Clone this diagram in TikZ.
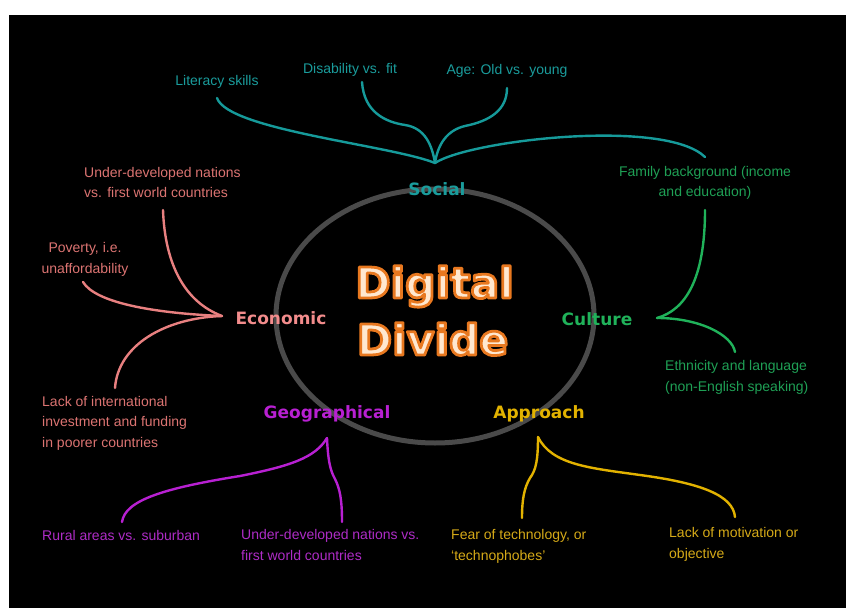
\documentclass[tikz,border=0pt]{standalone}
\usepackage{fontspec}
\setmainfont{Liberation Sans}
\newfontfamily\labelfont[BoldFont={DejaVu Sans Bold}]{DejaVu Sans}
\usetikzlibrary{calc}

\definecolor{ringgrey}{HTML}{4A4A4A}
\definecolor{titlefill}{HTML}{FFE8D0}
\definecolor{tealline}{HTML}{169A9A}
\definecolor{tealtext}{HTML}{1A9C9C}
\definecolor{salmonline}{HTML}{E88080}
\definecolor{salmonlabel}{HTML}{F28C8C}
\definecolor{salmontext}{HTML}{DC7472}
\definecolor{greenline}{HTML}{20B25A}
\definecolor{greentext}{HTML}{1FA055}
\definecolor{purpleline}{HTML}{B820D2}
\definecolor{purpletext}{HTML}{AE2CC6}
\definecolor{goldline}{HTML}{E2B200}
\definecolor{goldtext}{HTML}{D6AA18}

% outlined title text: fill with the text colour, stroke in orange
\newcommand{\glowword}[1]{%
  \special{pdf:literal direct 2 Tr 2.8 w 1 J 1 j 0.91 0.47 0.12 RG}#1%
  \special{pdf:literal direct 0 Tr}}

\tikzset{
  note/.style={inner sep=0pt, font=\fontsize{14bp}{20.5bp}\selectfont},
  cat/.style={inner sep=0pt, anchor=base, font=\labelfont\bfseries\fontsize{17bp}{20bp}\selectfont},
  branch/.style={line width=2.4bp, line cap=round},
  titletext/.style={inner sep=0pt, anchor=base, text=titlefill,
    font=\labelfont\bfseries\fontsize{42.5bp}{50bp}\selectfont},
}

\begin{document}
\begin{tikzpicture}[x=1bp,y=-1bp]
\useasboundingbox (0,0) rectangle (847,608);
\fill[white] (0,0) rectangle (847,608);
\fill[black] (9,15) rectangle (846,608);

% central ring
\draw[ringgrey, line width=5bp] (435,316) ellipse [x radius=159bp, y radius=127bp];

% title
\node[titletext] (digital) at (434.5,298) {\glowword{Digital}};
\node[titletext] (divide) at (432.5,355) {\glowword{Divide}};

% category labels
\node[cat, text=tealtext] (social) at (437,196) {Social};
\node[cat, text=salmonlabel] (economic) at (281,324) {Economic};
\node[cat, text=greenline] (culture) at (597,325) {Culture};
\node[cat, text=purpleline] (geo) at (327,418) {Geographical};
\node[cat, text=goldline] (approach) at (539,418) {Approach};

% social notes
\node[note, text=tealtext, anchor=base] (literacy) at (217,86) {Literacy skills};
\node[note, text=tealtext, anchor=base] (disability) at (350,74) {Disability vs. fit};
\node[note, text=tealtext, anchor=base] (age) at (507,75) {Age: Old vs. young};

% economic notes (base anchor = last line)
\node[note, text=salmontext, anchor=base west, align=left] (eundev) at (84,198)
  {Under-developed nations\\vs. first world countries};
\node[note, text=salmontext, anchor=base, align=center] (poverty) at (85,273)
  {Poverty, i.e.\\unaffordability};
\node[note, text=salmontext, anchor=base west, align=left] (invest) at (42,447)
  {Lack of international\\investment and funding\\in poorer countries};

% culture notes
\node[note, text=greentext, anchor=base, align=center] (family) at (705,197)
  {Family background (income\\and education)};
\node[note, text=greentext, anchor=base west, align=left] (ethnic) at (665,391)
  {Ethnicity and language\\(non-English speaking)};

% geographical notes
\node[note, text=purpletext, anchor=base west] (rural) at (42,540) {Rural areas vs. suburban};
\node[note, text=purpletext, anchor=base west, align=left] (gundev) at (241,560)
  {Under-developed nations vs.\\first world countries};

% approach notes
\node[note, text=goldtext, anchor=base west, align=left] (fear) at (451,560)
  {Fear of technology, or\\`technophobes'};
\node[note, text=goldtext, anchor=base west, align=left] (motiv) at (669,558)
  {Lack of motivation or\\objective};

% branch hubs and free ends
\coordinate (shub) at (435,163);
\coordinate (litend) at (217,98);
\coordinate (disk) at (405,125);
\coordinate (disend) at (362,82);
\coordinate (agek) at (465,126);
\coordinate (ageend) at (507,88);
\coordinate (famend) at (705,157);

\coordinate (ehub) at (222,316);
\coordinate (eundend) at (163,210);
\coordinate (epovend) at (83,282);
\coordinate (einvend) at (115,388);

\coordinate (chub) at (657,318);
\coordinate (cfamend) at (705,210);
\coordinate (cethend) at (735,352);

\coordinate (ghub) at (327,438);
\coordinate (gmid) at (240,476);
\coordinate (gruralend) at (122,522);
\coordinate (gk) at (335,479);
\coordinate (gundend) at (342,522);

\coordinate (ahub) at (538,437);
\coordinate (ak) at (530,478);
\coordinate (afearend) at (522,518);
\coordinate (amid) at (640,475);
\coordinate (amotend) at (735,517);

% social branches
\draw[branch, tealline] (shub) .. controls (390,145) and (228,130) .. (litend);
\draw[branch, tealline] (shub) .. controls (432,145) and (425,128) .. (disk)
  .. controls (385,122) and (364,112) .. (disend);
\draw[branch, tealline] (shub) .. controls (438,143) and (448,130) .. (agek)
  .. controls (490,121) and (507,110) .. (ageend);
\draw[branch, tealline] (shub) .. controls (470,140) and (665,118) .. (famend);

% economic branches
\draw[branch, salmonline] (eundend) .. controls (165,265) and (185,302) .. (ehub);
\draw[branch, salmonline] (epovend) .. controls (95,302) and (150,313) .. (ehub);
\draw[branch, salmonline] (einvend) .. controls (118,345) and (165,318) .. (ehub);

% culture branches
\draw[branch, greenline] (cfamend) .. controls (705,280) and (685,310) .. (chub);
\draw[branch, greenline] (chub) .. controls (700,318) and (732,335) .. (cethend);

% geographical branches
\draw[branch, purpleline] (ghub) .. controls (315,458) and (290,466) .. (gmid)
  .. controls (165,488) and (125,500) .. (gruralend);
\draw[branch, purpleline] (ghub) .. controls (328,460) and (330,470) .. (gk)
  .. controls (340,489) and (342,500) .. (gundend);

% approach branches
\draw[branch, goldline] (ahub) .. controls (538,460) and (536,470) .. (ak)
  .. controls (524,488) and (522,500) .. (afearend);
\draw[branch, goldline] (ahub) .. controls (552,465) and (590,468) .. (amid)
  .. controls (700,483) and (733,495) .. (amotend);
\end{tikzpicture}
\end{document}
